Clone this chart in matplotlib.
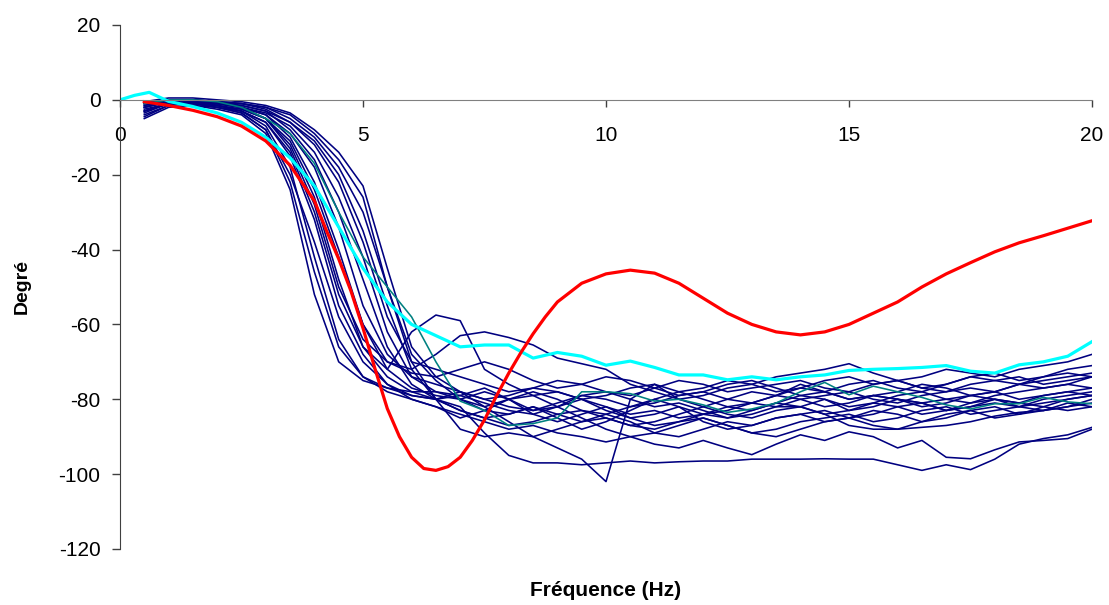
import matplotlib
matplotlib.use('Agg')
import matplotlib.pyplot as plt

# 1 - Data

freq = [0.5, 1, 1.5, 2, 2.5, 3, 3.5, 4, 4.5, 5, 5.5, 6, 6.5, 7, 7.5, 8, 8.5, 9, 9.5, 10,
        10.5, 11, 11.5, 12, 12.5, 13, 13.5, 14, 14.5, 15, 15.5, 16, 16.5, 17, 17.5, 18,
        18.5, 19, 19.5, 20]

# individual measurements (navy)
m01 = [-3, -1, -1.5, -2.5, -4, -9, -24, -52, -70, -75, -77, -78, -78, -80, -83, -84, -82, -85, -88, -86,
       -83, -80, -82, -84, -83, -81, -79, -80, -82, -81, -79, -80, -82, -81, -79, -80, -81, -79, -78, -77]
m02 = [-1, 0, -0.5, -1.5, -3, -7, -18, -42, -64, -74, -77, -79, -80, -79, -77, -80, -84, -86, -84, -82,
       -85, -87, -86, -84, -85, -83, -81, -82, -80, -83, -82, -80, -81, -83, -82, -80, -81, -82, -80, -79]
m03 = [-4, -1.5, -1, -2, -3.5, -8, -20, -38, -58, -70, -76, -79, -80, -82, -89, -95, -97, -97, -97.5, -97,
       -96.5, -97, -96.7, -96.5, -96.5, -96, -96, -96, -95.9, -96, -96, -97.5, -99, -97.5, -98.8, -96, -92, -90.5, -89.5, -87.5]
m04 = [-2, -0.5, -0.5, -1.5, -3, -6, -15, -32, -55, -68, -76, -80, -82, -84, -86, -88, -87, -89, -90, -91.4,
       -90, -92, -93, -91, -93, -94.8, -92, -89.5, -91, -88.7, -90, -93, -91, -95.5, -95.9, -93.5, -91.4, -91, -90.5, -88]
m05 = [-2.5, -1, -1, -1.5, -2.5, -5, -12, -26, -48, -66, -72, -62, -57.5, -59, -72, -76, -79, -78, -80, -83,
       -85, -84, -82, -86, -88, -87, -85, -84, -86, -85, -83, -84, -86, -85, -83, -82, -84, -83, -81, -82]
m06 = [-1, 0, 0, -1, -2, -5, -11, -24, -42, -60, -70, -72, -68, -63, -62, -63.5, -65.5, -69, -70.5, -72,
       -76, -78, -80, -79, -77, -76, -78, -77, -75, -74, -76, -75, -77, -76, -74, -75, -76, -74, -73, -74]
m07 = [-3, -1, -1, -2, -3, -6, -14, -30, -52, -66, -74, -78, -80, -78, -82, -86, -90, -93, -96, -102,
       -80, -76, -80, -82, -80, -78, -79, -76, -78, -80, -79, -80, -81, -80, -79, -78, -80, -79, -78, -79]
m08 = [-1.5, 0, 0, -1, -2, -4, -10, -22, -40, -60, -72, -77, -79, -80, -78, -80, -83, -82, -80, -82,
       -84, -83, -85, -84, -82, -81, -82, -82, -84, -87, -88, -88, -87.5, -87, -86, -84.5, -83.5, -83, -82, -80]
m09 = [-0.5, 0, 0, -1, -2, -4, -9, -18, -34, -55, -68, -74, -76, -78, -80, -79, -77, -78, -80, -79,
       -77, -76, -78, -77, -75, -76, -74, -73, -72, -70.5, -73, -75, -74, -72, -73, -74, -72, -71, -70, -68]
m10 = [-2, -0.5, 0, -0.5, -1.5, -3, -8, -16, -30, -48, -66, -76, -80, -83, -85, -84, -82, -84, -86, -85,
       -87, -88, -86, -85, -87, -89, -88, -86, -85, -84, -86, -85, -83, -82, -84, -83, -82, -83, -82, -81]
m11 = [-3.5, -1, -0.5, -1, -2, -3.5, -7, -14, -26, -42, -62, -74, -78, -79, -81, -83, -84, -82, -79, -78,
       -80, -82, -81, -83, -85, -84, -82, -80, -79, -78, -80, -81, -79, -78, -77, -78, -76, -75, -74, -73]
m12 = [-4.5, -1.5, -0.5, -1, -1.5, -3, -6, -12, -22, -38, -58, -70, -72, -74, -76, -78, -77, -75, -76, -78,
       -79, -77, -75, -76, -78, -77, -76, -75, -77, -78, -76, -75, -77, -78, -76, -75, -74, -76, -75, -74]
m13 = [-1, 0, 0, -0.5, -1, -2.5, -6, -11, -20, -35, -55, -72, -80, -88, -90, -89, -90, -88, -86, -84,
       -86, -89, -90, -88, -86, -87, -85, -84, -83, -85, -84, -82, -81, -83, -82, -81, -82, -80, -79, -78]
m14 = [-2, -0.5, 0, -0.5, -1, -2, -5, -10, -18, -30, -50, -68, -75, -80, -82, -80, -78, -80, -83, -84,
       -82, -80, -78, -80, -82, -83, -81, -79, -80, -82, -81, -79, -78, -80, -81, -79, -78, -77, -76, -74]
m15 = [-3, -1, -0.5, -0.5, -1, -2, -4, -9, -16, -26, -50, -70, -80, -83, -85, -87, -86, -84, -83, -85,
       -87, -86, -84, -82, -84, -85, -83, -82, -84, -83, -81, -82, -84, -83, -81, -80, -82, -81, -80, -79]
m16 = [-0.5, 0.5, 0.5, 0, -0.5, -1.5, -3.5, -8, -14, -23, -45, -66, -74, -78, -80, -82, -83, -81, -79, -80,
       -82, -81, -79, -78, -80, -81, -79, -77, -78, -80, -79, -78, -76, -77, -79, -78, -76, -77, -76, -77]
m17 = [-5, -2, -1.5, -2, -3.5, -8, -22, -46, -66, -74, -78, -80, -82, -85, -83, -80, -79, -82, -85, -88,
       -90, -89, -87, -85, -87, -89, -90, -88, -86, -85, -87, -88, -86, -84, -83, -85, -84, -82, -83, -82]
m18 = [-1.5, -0.5, -1, -1.5, -2.5, -5, -13, -28, -50, -64, -70, -73, -74, -72, -70, -72, -75, -77, -76, -74,
       -75, -77, -79, -78, -76, -75, -77, -79, -78, -76, -75, -77, -78, -76, -74, -73, -75, -74, -72, -71]
navy_series = [m01, m02, m03, m04, m05, m06, m07, m08, m09, m10, m11, m12,
               m13, m14, m15, m16, m17, m18]

# teal measurement
teal = [-1, 0, 0, -0.5, -2, -5, -9, -17, -30, -42, -50, -58, -70, -80.5, -83, -87, -86.5, -85, -78, -78,
        -78.5, -80.5, -80, -81.5, -83.5, -82.6, -81, -78, -75.5, -78.8, -76.5, -78, -79.5, -81.5, -82.6, -81.2,
        -81.2, -79.5, -80.7, -81.2]

# mean (cyan)
freq_mean = [0, 0.3, 0.6, 0.8, 1, 1.5, 2, 2.5, 3, 3.5, 4, 4.5, 5, 5.5, 6, 6.5, 7, 7.5, 8, 8.5, 9, 9.5,
             10, 10.5, 11, 11.5, 12, 12.5, 13, 13.5, 14, 14.5, 15, 15.5, 16, 16.5, 17, 17.5, 18,
             18.5, 19, 19.5, 20]
mean = [0, 1.2, 2, 0.8, -0.4, -1.8, -3.5, -6, -10, -15.5, -23, -34, -45, -54, -60, -63, -66, -65.5,
        -65.5, -69, -67.5, -68.5, -70.9, -69.8, -71.5, -73.5, -73.5, -74.8, -74, -74.8, -74, -73.5,
        -72.3, -72, -71.8, -71.5, -71, -72.5, -73, -70.8, -70, -68.5, -64.6]

# model (red)
freq_model = [0.5, 1, 1.5, 2, 2.5, 3, 3.5, 4, 4.25, 4.5, 4.75, 5, 5.25, 5.5, 5.75, 6, 6.25, 6.5,
              6.75, 7, 7.25, 7.5, 7.75, 8, 8.25, 8.5, 8.75, 9, 9.5, 10, 10.5, 11, 11.5, 12, 12.5,
              13, 13.5, 14, 14.5, 15, 15.5, 16, 16.5, 17, 17.5, 18, 18.5, 19, 19.5, 20]
model = [-0.5, -1.5, -2.8, -4.5, -7, -11, -17.5, -27, -35, -42.5, -51, -61, -72, -82.5, -90, -95.5,
         -98.5, -99, -98, -95.5, -91, -85.5, -79, -73, -67.5, -62.5, -58, -54, -49, -46.5, -45.5,
         -46.3, -49, -53, -57, -60, -62, -62.8, -62, -60, -57, -54, -50, -46.5, -43.5, -40.6,
         -38.2, -36.3, -34.3, -32.3]

# 2 - Plot

plt.rcParams['font.family'] = ['Liberation Sans', 'DejaVu Sans']
plt.rcParams['axes.unicode_minus'] = False

fig = plt.figure(figsize=(11.09, 6.05), dpi=100)
ax = fig.add_axes([0.1082, 0.0926, 0.8765, 0.8661])

for s in navy_series:
    ax.plot(freq, s, color='#000080', lw=1.15, solid_joinstyle='round')
ax.plot(freq, teal, color='#008080', lw=1.15)
ax.plot(freq_mean, mean, color='#00FFFF', lw=2.3)
ax.plot(freq_model, model, color='#FF0000', lw=2.3)

ax.set_xlim(0, 20)
ax.set_ylim(-120, 20)
ax.set_xticks([0, 5, 10, 15, 20])
ax.set_yticks([-120, -100, -80, -60, -40, -20, 0, 20])

ax.spines['top'].set_visible(False)
ax.spines['right'].set_visible(False)
ax.spines['bottom'].set_position(('data', 0))
ax.spines['bottom'].set_color('#808080')
ax.spines['left'].set_color('#404040')

ax.tick_params(axis='y', direction='out', length=6, width=1, color='#404040',
               labelsize=15, pad=8)
ax.tick_params(axis='x', direction='out', length=5, width=1, color='#404040',
               labelsize=15, pad=14)

ax.set_ylabel('Degré', fontsize=14, fontweight='bold')
ax.yaxis.set_label_coords(-0.092, 0.5)
ax.text(0.5, -0.08, 'Fréquence (Hz)', transform=ax.transAxes, ha='center', va='center',
        fontsize=15, fontweight='bold')

fig.savefig('out.png', dpi=100, facecolor='w')
